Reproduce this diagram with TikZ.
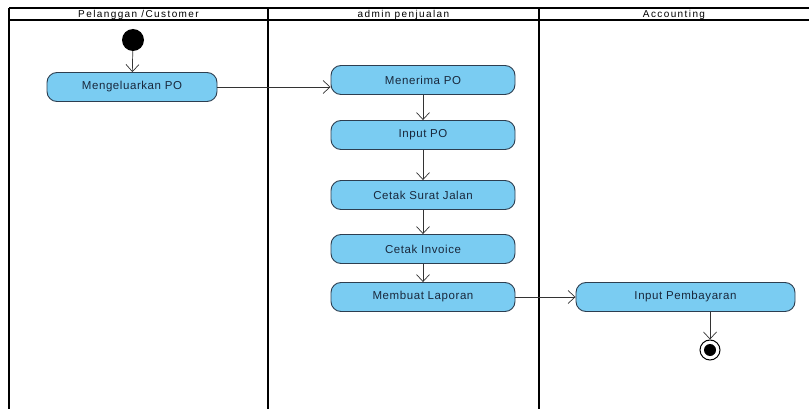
\documentclass[tikz,border=0pt]{standalone}
\usepackage{fontspec}
\setmainfont{Liberation Sans}
\usetikzlibrary{arrows.meta}
\definecolor{actfill}{RGB}{122,204,242}
\definecolor{actdraw}{RGB}{45,62,80}
\definecolor{acttext}{RGB}{25,40,60}
\begin{document}
\begin{tikzpicture}[x=1pt,y=-1pt,
  act/.style={draw=actdraw,line width=0.9pt,fill=actfill,rounded corners=10pt,text=acttext,
    minimum height=29pt,inner sep=0pt,font=\fontsize{11.5}{13}\selectfont\addfontfeature{LetterSpace=5}},
  flow/.style={draw=black!80,line width=0.7pt,-{Straight Barb[length=7pt,width=13pt,line width=0.7pt]}},
  lane/.style={line width=2.2pt,black},
  hdr/.style={anchor=base,inner sep=0pt,font=\fontsize{10}{12}\selectfont\addfontfeature{LetterSpace=14}}]
\useasboundingbox (0,0) rectangle (809,409);
% swimlanes
\draw[line width=1.6pt] (9,8) -- (809,8);
\draw[line width=1.6pt] (9,20) -- (809,20);
\draw[lane] (9,8) -- (9,409);
\draw[lane] (268,8) -- (268,409);
\draw[lane] (539,8) -- (539,409);
\node[hdr] (h1) at (138.5,17.8) {Pelanggan /Customer};
\node[hdr] (h2) at (403.5,17.8) {admin penjualan};
\node[hdr] (h3) at (674,17.8) {Accounting};
% nodes
\node[circle,fill=black,minimum size=22pt,inner sep=0pt] (start) at (133,40) {};
\node[act,minimum width=170pt] (a1) at (132,87) {Mengeluarkan PO};
\node[act,minimum width=184pt] (a2) at (423,80) {Menerima PO};
\node[act,minimum width=184pt] (a3) at (423,135) {Input PO};
\node[act,minimum width=184pt] (a4) at (423,195) {Cetak Surat Jalan};
\node[act,minimum width=184pt] (a5) at (423,249) {Cetak Invoice};
\node[act,minimum width=184pt] (a6) at (423,297) {Membuat Laporan};
\node[act,minimum width=219pt] (a7) at (685.5,297) {Input Pembayaran};
\node[circle,draw=black,line width=1pt,fill=white,minimum size=20pt,inner sep=0pt] (end) at (710,350) {};
\node[circle,fill=black,minimum size=12pt,inner sep=0pt] (endin) at (end.center) {};
% flows
\draw[flow] (start) -- (a1);
\draw[flow] (a1.east) -- (a1.east -| a2.west);
\draw[flow] (a2) -- (a3);
\draw[flow] (a3) -- (a4);
\draw[flow] (a4) -- (a5);
\draw[flow] (a5) -- (a6);
\draw[flow] (a6) -- (a7);
\draw[flow] (a7.south -| end) -- (end);
\end{tikzpicture}
\end{document}
